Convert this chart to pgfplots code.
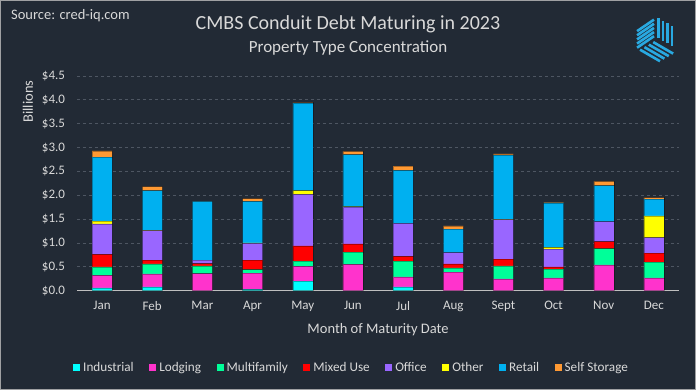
\documentclass[border=0pt]{standalone}
\usepackage{pgfplots}
\pgfplotsset{compat=1.18}
\usepackage{pgfplotstable}
\usetikzlibrary{calc}
\usepackage{fontspec}
\setmainfont{Carlito}
\definecolor{bg}{HTML}{222A35}
\definecolor{txt}{HTML}{D9D9D9}
\definecolor{gridc}{HTML}{4E5662}
\definecolor{axc}{HTML}{BFBFBF}
\definecolor{cInd}{HTML}{00FFFF}
\definecolor{cLod}{HTML}{FF33CC}
\definecolor{cMF}{HTML}{00FF99}
\definecolor{cMix}{HTML}{FF0000}
\definecolor{cOff}{HTML}{9966FF}
\definecolor{cOth}{HTML}{FFFF00}
\definecolor{cRet}{HTML}{00B0F0}
\definecolor{cSS}{HTML}{FF9933}
\definecolor{logo}{HTML}{29A9E1}
\pgfplotstableread{
x Ind  Lod  MF   Mix  Off  Oth  Ret  SS
0 0.06 0.26 0.18 0.26 0.64 0.06 1.34 0.13
1 0.08 0.27 0.21 0.08 0.62 0.01 0.83 0.08
2 0.00 0.36 0.16 0.05 0.07 0.00 1.23 0.01
3 0.03 0.34 0.07 0.20 0.35 0.01 0.87 0.06
4 0.20 0.31 0.11 0.32 1.08 0.08 1.83 0.01
5 0.00 0.55 0.26 0.17 0.77 0.01 1.09 0.07
6 0.08 0.21 0.33 0.10 0.69 0.00 1.11 0.09
7 0.00 0.39 0.09 0.08 0.24 0.00 0.49 0.07
8 0.00 0.25 0.27 0.14 0.83 0.01 1.34 0.03
9 0.00 0.27 0.18 0.05 0.37 0.04 0.93 0.01
10 0.00 0.54 0.34 0.15 0.42 0.00 0.75 0.09
11 0.00 0.27 0.33 0.19 0.32 0.46 0.35 0.03
}\datatable
\begin{document}
\begin{tikzpicture}[x=1pt,y=1pt]
\fill[bg] (0,0) rectangle (696,390);
\useasboundingbox (0,0) rectangle (696,390);
\draw[axc!80!bg, line width=1pt] (0.5,0.5) rectangle (695.5,389.5);
\begin{axis}[
  at={(77pt,99.3pt)}, anchor=south west,
  scale only axis, width=602pt, height=214.7pt,
  xmin=-0.5, xmax=11.5, ymin=0, ymax=4.5,
  ybar stacked, bar width=20pt,
  xtick={0,...,11},
  xticklabels={Jan,Feb,Mar,Apr,May,Jun,Jul,Aug,Sept,Oct,Nov,Dec},
  ytick={0,0.5,1,1.5,2,2.5,3,3.5,4,4.5},
  yticklabels={\$0.0,\$0.5,\$1.0,\$1.5,\$2.0,\$2.5,\$3.0,\$3.5,\$4.0,\$4.5},
  major tick length=0pt,
  ymajorgrids, grid style={dashed, color=gridc, line width=0.8pt},
  axis x line*=bottom, axis y line*=left,
  x axis line style={color=axc, line width=1.3pt, -},
  y axis line style={draw=none},
  tick label style={color=txt, font=\fontsize{13}{13}\selectfont},
  yticklabel shift=8.5pt,
  xticklabel shift=7pt,
  every axis plot/.append style={draw=black, draw opacity=0.3, line width=0.5pt},
  legend columns=8,
  legend style={at={(-0.0066,-0.36)}, anchor=west, draw=none, fill=none,
    text=txt, font=\fontsize{13.2}{13.2}\selectfont,
    nodes={inner sep=0pt},
    /tikz/every odd column/.append style={column sep=3pt},
    /tikz/every even column/.append style={column sep=15.5pt},
    inner sep=0pt, row sep=0pt},
  legend image code/.code={\fill[#1, draw=none] (0pt,-3.5pt) rectangle (7pt,3.5pt);},
]
\addplot[fill=cInd] table[y=Ind] {\datatable};
\addplot[fill=cLod] table[y=Lod] {\datatable};
\addplot[fill=cMF] table[y=MF] {\datatable};
\addplot[fill=cMix] table[y=Mix] {\datatable};
\addplot[fill=cOff] table[y=Off] {\datatable};
\addplot[fill=cOth] table[y=Oth] {\datatable};
\addplot[fill=cRet] table[y=Ret] {\datatable};
\addplot[fill=cSS] table[y=SS] {\datatable};
\legend{Industrial,Lodging,Multifamily,Mixed Use,Office,Other,Retail,Self Storage}
\end{axis}
\node[text=txt, font=\fontsize{20}{20}\selectfont] at (348,366) {CMBS Conduit Debt Maturing in 2023};
\node[text=txt, font=\fontsize{17}{17}\selectfont] at (348,342) {Property Type Concentration};
\node[text=txt, font=\fontsize{14.5}{14.5}\selectfont, anchor=west, inner sep=0pt] at (11,374) {Source: cred-iq.com};
\node[text=txt, font=\fontsize{14.5}{14.5}\selectfont, rotate=90] at (28,288.5) {Billions};
\node[text=txt, font=\fontsize{14.5}{14.5}\selectfont] at (378,60) {Month of Maturity Date};
% logo
\begin{scope}[shift={(656,351.5)}, line width=2.6pt, logo]
  \def\R{23}
  \coordinate (C) at (0,0);
  \coordinate (V90) at (90:\R); \coordinate (V30) at (30:\R);
  \coordinate (Vm30) at (-30:\R); \coordinate (Vm90) at (-90:\R);
  \coordinate (Vm150) at (-150:\R); \coordinate (V150) at (150:\R);
  \foreach \t in {0.14,0.36,0.58,0.8} {
    \draw ($(C)!\t!(Vm30)+(0,2)$) -- ($(V90)!\t!(V30)+(0,-1)$);
  }
  \foreach \t in {0.1,0.28,0.46,0.64,0.82} {
    \draw ($(Vm150)!\t!(V150)+(1,0)$) -- ($(C)!\t!(V90)+(-2,0)$);
  }
  \foreach \t in {0.14,0.36,0.58,0.8} {
    \draw ($(C)!\t!(Vm150)+(0,-2)$) -- ($(Vm30)!\t!(Vm90)+(0,-2)$);
  }
\end{scope}
\end{tikzpicture}
\end{document}
